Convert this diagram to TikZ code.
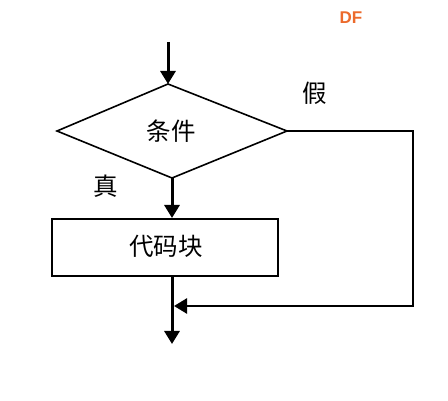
\documentclass[tikz,border=0pt]{standalone}
\usepackage{fontspec}
\newfontfamily\cjk{Noto Sans CJK SC}
\newfontfamily\dffont{Liberation Sans}
\usetikzlibrary{arrows.meta,shapes.geometric}
\definecolor{dforange}{HTML}{EC6A2C}
\begin{document}
\begin{tikzpicture}[x=1pt,y=-1pt,
  tip/.style={-{Triangle[length=13pt,width=15pt]}},
  flow/.style={line width=3pt,tip},
  thin/.style={line width=1.6pt},
  lbl/.style={font=\cjk\fontsize{24.5}{24.5}\selectfont}]
\useasboundingbox (0,0) rectangle (448,401);
\coordinate (start) at (168,42);
\coordinate (dtop) at (168,84);
\coordinate (dleft) at (57,131);
\coordinate (dright) at (287,131);
\coordinate (dbot) at (172,178);
\draw[thin,line join=miter] (dtop) -- (dright) -- (dbot) -- (dleft) -- cycle;
\node[lbl] (cond) at (171,131) {条件};
\node[draw,line width=2pt,minimum width=226pt,minimum height=57pt,inner sep=0pt] (box) at (165,247.5) {};
\node[lbl] (code) at (166,246) {代码块};
\draw[flow] (start) -- (dtop);
\draw[flow] (dbot) -- (box.north -| dbot);
\coordinate (boxb) at (box.south -| dbot);
\coordinate (endp) at (172,344);
\draw[flow] (boxb) -- (endp);
\coordinate (c1) at (413,131);
\coordinate (c2) at (413,306);
\coordinate (c3) at (174,306);
\draw[line width=2.6pt,tip] (dright) -- (c1) -- (c2) -- (c3);
\node[lbl] (t) at (106,186) {真};
\node[lbl] (f) at (315,93) {假};
\node[font=\dffont\bfseries\fontsize{17}{17}\selectfont,text=dforange] (df) at (351,18) {DF};
\end{tikzpicture}
\end{document}
